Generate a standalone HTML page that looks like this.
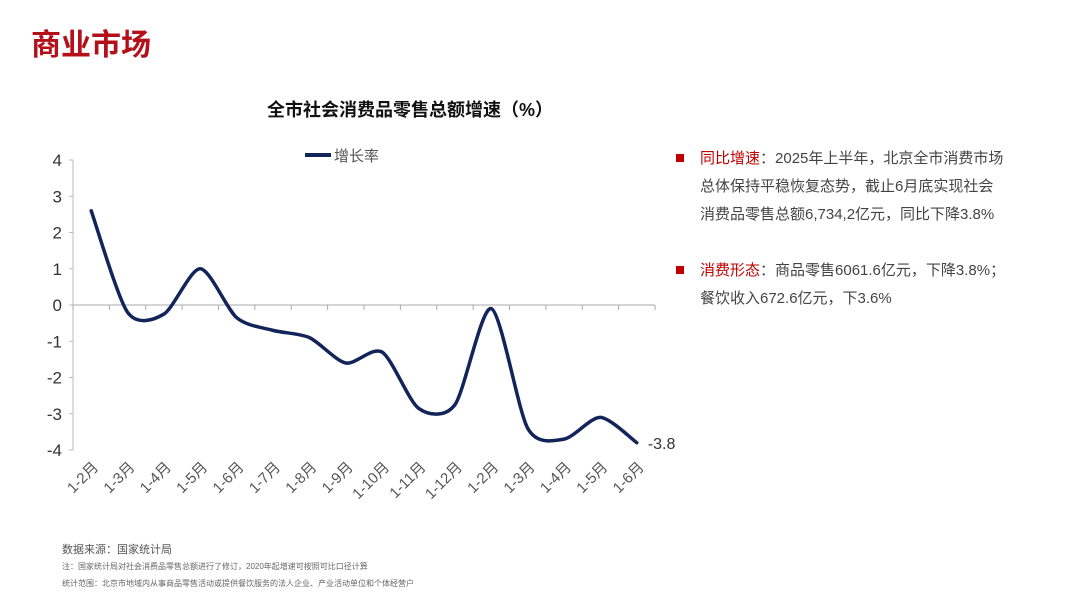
<!DOCTYPE html>
<html><head><meta charset="utf-8"><style>
body{margin:0;width:1080px;height:608px;background:#fff;font-family:"Liberation Sans","Noto Sans CJK SC",sans-serif;position:relative;overflow:hidden}
.abs{position:absolute}
</style></head><body>
<div class="abs" style="left:31px;top:20px;font-size:30px;font-weight:bold;color:#b3101a">商业市场</div>
<div class="abs" style="left:230px;top:96px;width:360px;text-align:center;font-size:18px;font-weight:bold;color:#111">全市社会消费品零售总额增速（%）</div>
<svg class="abs" style="left:0;top:0" width="1080" height="608" id="chart"></svg>
<div class="abs" style="left:676px;top:145px;font-size:15px;line-height:28px;color:#444;width:390px;white-space:nowrap">
<div style="position:relative;padding-left:24px"><span style="position:absolute;left:0;top:9px;width:8px;height:8px;background:#c00000"></span><span style="color:#c00000">同比增速</span>：2025年上半年，北京全市消费市场<br>总体保持平稳恢复态势，截止6月底实现社会<br>消费品零售总额6,734,2亿元，同比下降3.8%</div>
<div style="position:relative;padding-left:24px;margin-top:28px"><span style="position:absolute;left:0;top:9px;width:8px;height:8px;background:#c00000"></span><span style="color:#c00000">消费形态</span>：商品零售6061.6亿元，下降3.8%；<br>餐饮收入672.6亿元，下3.6%</div>
</div>
<div class="abs" style="left:62px;top:541px;font-size:11px;color:#555">数据来源：国家统计局</div>
<div class="abs" style="left:62px;top:561px;font-size:8px;color:#666">注：国家统计局对社会消费品零售总额进行了修订，2020年起增速可按照可比口径计算</div>
<div class="abs" style="left:62px;top:578px;font-size:8px;color:#666">统计范围：北京市地域内从事商品零售活动或提供餐饮服务的法人企业、产业活动单位和个体经营户</div>
<script>
const categories=["1-2月","1-3月","1-4月","1-5月","1-6月","1-7月","1-8月","1-9月","1-10月","1-11月","1-12月","1-2月","1-3月","1-4月","1-5月","1-6月"];
const values=[2.6,-0.2,-0.25,1.0,-0.35,-0.7,-0.9,-1.6,-1.3,-2.85,-2.75,-0.1,-3.4,-3.7,-3.1,-3.8];
const yTicks=[4,3,2,1,0,-1,-2,-3,-4];
const svg=document.getElementById('chart');const NS='http://www.w3.org/2000/svg';
const L=73,R=655,T=160,B=450,yMax=4,yMin=-4;
const bw=(R-L)/categories.length;
const xs=i=>L+bw*(i+0.5);
const ys=v=>T+(yMax-v)/(yMax-yMin)*(B-T);
function mk(t,a,txt){const e=document.createElementNS(NS,t);for(const k in a)e.setAttribute(k,a[k]);if(txt!=null)e.textContent=txt;svg.appendChild(e);return e;}
let e=mk('line',{x1:L,y1:T,x2:L,y2:B,stroke:'#bbb'});

e=mk('line',{x1:L,y1:ys(0),x2:R,y2:ys(0),stroke:'#aaa'});

yTicks.forEach(v=>{mk('line',{x1:L-4,y1:ys(v),x2:L,y2:ys(v),stroke:'#bbb'});
const t=mk('text',{x:62,y:ys(v)+6,'text-anchor':'end','font-size':17,fill:'#333'},String(v));
});
for(let i=0;i<=categories.length;i++)mk('line',{x1:L+bw*i,y1:ys(0),x2:L+bw*i,y2:ys(0)+5,stroke:'#aaa'});
categories.forEach((c,i)=>{const x=xs(i)+8,y=468;
const t=mk('text',{x:x,y:y,'text-anchor':'end','font-size':15,fill:'#555',transform:`rotate(-45 ${x} ${y})`},c);
});
const pts=values.map((v,i)=>[xs(i),ys(v)]);
const k=7.5;
let d=`M${pts[0][0]},${pts[0][1]}`;
for(let i=0;i<pts.length-1;i++){const p0=pts[i-1]||pts[i],p1=pts[i],p2=pts[i+1],p3=pts[i+2]||p2;
d+=` C${p1[0]+(p2[0]-p0[0])/k},${p1[1]+(p2[1]-p0[1])/k} ${p2[0]-(p3[0]-p1[0])/k},${p2[1]-(p3[1]-p1[1])/k} ${p2[0]},${p2[1]}`;}
e=mk('path',{d:d,fill:'none',stroke:'#13245a','stroke-width':3.5,'stroke-linecap':'round'});

const last=values.length-1;
e=mk('text',{x:xs(last)+11,y:ys(values[last])+6,'font-size':16,fill:'#333'},String(values[last]));

e=mk('line',{x1:305,y1:155,x2:331,y2:155,stroke:'#13245a','stroke-width':4});

e=mk('text',{x:334,y:161,'font-size':15,fill:'#555'},'增长率');

</script>
</body></html>
